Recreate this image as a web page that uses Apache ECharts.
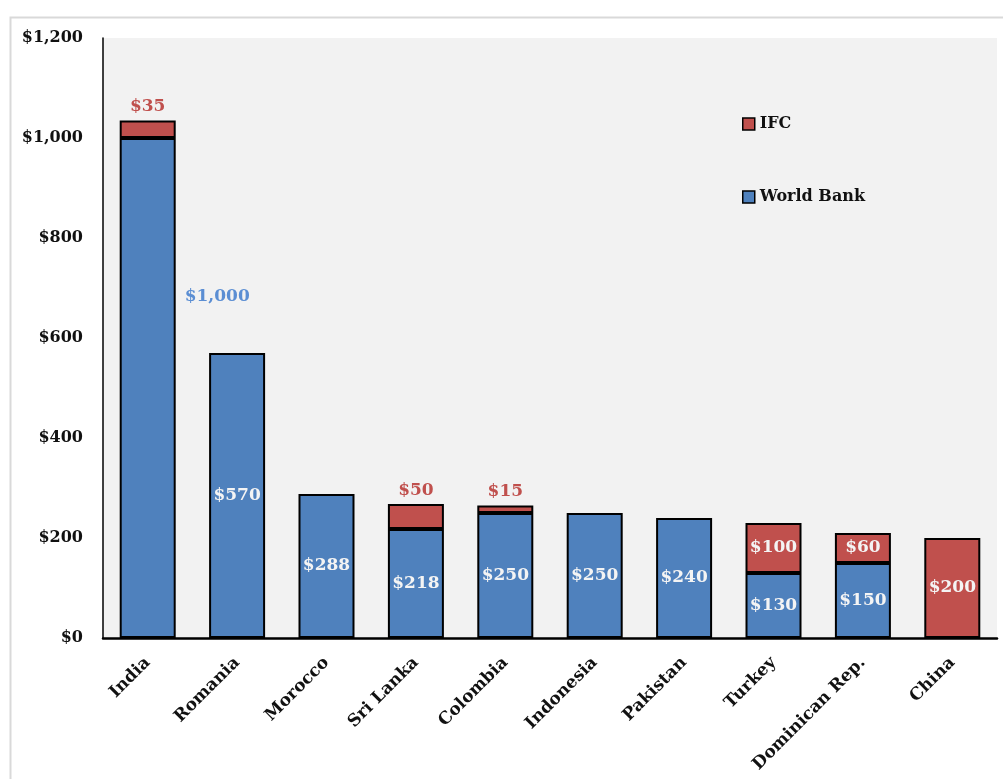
<!DOCTYPE html>
<html>
<head>
<meta charset="utf-8">
<script src="https://cdn.jsdelivr.net/npm/echarts@6/dist/echarts.min.js"></script>
<style>
html,body{margin:0;padding:0;background:#fff;}
#chart{width:1003px;height:779px;}
</style>
</head>
<body>
<div id="chart"></div>
<script>
const categories = ['India','Romania','Morocco','Sri Lanka','Colombia','Indonesia','Pakistan','Turkey','Dominican Rep.','China'];
const worldBank = [1000, 570, 288, 218, 250, 250, 240, 130, 150, null];
const ifc = [35, null, null, 50, 15, null, null, 100, 60, 200];
const yTicks = [0, 200, 400, 600, 800, 1000, 1200];

const FONT = '"DejaVu Serif", serif';
const BLUE = '#4f81bd';
const RED = '#c0504d';
const money = p => '$' + Number(p.value).toLocaleString('en-US');

const insideLabel = {show: true, position: 'inside', formatter: money, color: '#f4f4f4', fontFamily: FONT, fontWeight: 'bold', fontSize: 17};

const wbData = worldBank.map((v, i) => {
  if (v == null) return null;
  if (i === 0) {
    return {value: v, label: {show: true, formatter: money, position: [65, 159], verticalAlign: 'middle', align: 'left', color: '#5b8ed3', fontFamily: FONT, fontWeight: 'bold', fontSize: 17}};
  }
  return {value: v, label: insideLabel};
});
const ifcData = ifc.map((v, i) => {
  if (v == null) return null;
  if (v < 60) {
    return {value: v, label: {show: true, formatter: money, position: 'top', distance: 5, color: RED, fontFamily: FONT, fontWeight: 'bold', fontSize: 17}};
  }
  return {value: v, label: insideLabel};
});

const chart = echarts.init(document.getElementById('chart'));
chart.setOption({
  animation: false,
  backgroundColor: '#fff',
  graphic: [{type: 'rect', left: 8, top: 15, shape: {width: 1000, height: 770}, style: {fill: 'none', stroke: '#d9d9d9', lineWidth: 2}, z: -10}],
  grid: {left: 103, top: 38, right: 6, bottom: 141, show: true, backgroundColor: '#f2f2f2', borderWidth: 0},
  legend: {
    orient: 'vertical', left: 737, top: 111, itemGap: 57,
    itemWidth: 12, itemHeight: 12, icon: 'rect',
    textStyle: {fontFamily: FONT, fontWeight: 'bold', fontSize: 16, color: '#111'},
    data: [{name: 'IFC', itemStyle: {color: RED, borderColor: '#000', borderWidth: 1.5}}, {name: 'World Bank', itemStyle: {color: BLUE, borderColor: '#000', borderWidth: 1.5}}]
  },
  xAxis: {
    type: 'category', data: categories,
    axisLine: {lineStyle: {color: '#000', width: 2.5}},
    axisTick: {show: false},
    axisLabel: {rotate: 45, margin: 22, color: '#111', fontFamily: FONT, fontWeight: 'bold', fontSize: 17, interval: 0}
  },
  yAxis: {
    type: 'value', min: 0, max: 1200, interval: 200,
    axisLine: {show: true, lineStyle: {color: '#000', width: 1.5}},
    axisTick: {show: false},
    splitLine: {show: false},
    axisLabel: {margin: 20, color: '#111', fontFamily: FONT, fontWeight: 'bold', fontSize: 16,
      formatter: v => yTicks.includes(v) ? '$' + v.toLocaleString('en-US') : ''}
  },
  series: [
    {name: 'World Bank', type: 'bar', stack: 'a', barWidth: 56, data: wbData,
      itemStyle: {color: BLUE, borderColor: '#000', borderWidth: 2}},
    {name: 'IFC', type: 'bar', stack: 'a', barWidth: 56, data: ifcData,
      itemStyle: {color: RED, borderColor: '#000', borderWidth: 2}}
  ]
});
</script>
</body>
</html>
